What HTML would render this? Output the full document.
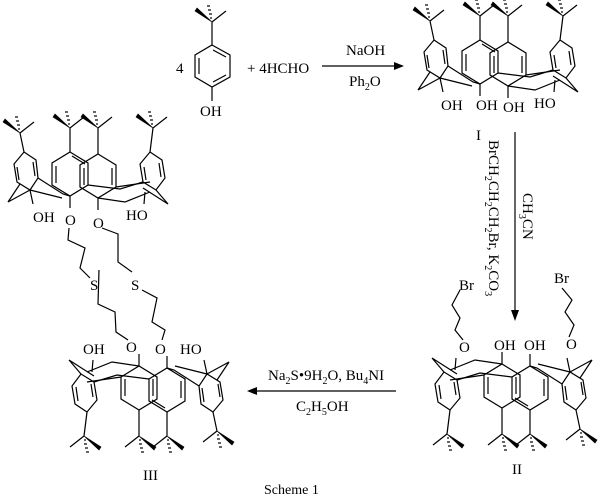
<!DOCTYPE html>
<html><head><meta charset="utf-8"><style>
html,body{margin:0;padding:0;background:#fff;}
svg{display:block;}
text{font-family:"Liberation Serif",serif;fill:#000;}
</style></head><body>
<svg width="600" height="498" viewBox="0 0 600 498" xmlns="http://www.w3.org/2000/svg">
<defs>
<g id="tbu" stroke="#000" stroke-width="1.2" fill="none">
  <line x1="0" y1="0" x2="14" y2="-11"/>
  <polygon points="0,0 -17,-11 -15,-14" fill="#000" stroke-width="0.6"/>
  <line x1="-2" y1="-4" x2="0" y2="-4"/><line x1="-3" y1="-8" x2="0" y2="-8"/><line x1="-4" y1="-12" x2="-1" y2="-12"/><line x1="-5" y1="-16" x2="-2" y2="-16"/>
</g>
<g id="calix" stroke="#000" stroke-width="1.2" fill="none">
  <use href="#tbu" x="20" y="21"/>
  <line x1="20" y1="21" x2="24" y2="40"/>
  <polygon points="24,40 36,48 38,66 30,78 17,70 14,52"/>
  <line x1="33" y1="50" x2="35" y2="64"/><line x1="17" y1="55" x2="19" y2="68"/>
  <use href="#tbu" x="70" y="16"/>
  <line x1="70" y1="16" x2="70" y2="40"/>
  <polygon points="70,40 88,51 88,73 70,84 52,73 52,51"/>
  <line x1="56" y1="54" x2="56" y2="71"/><line x1="72" y1="44" x2="85" y2="52"/>
  <use href="#tbu" x="98" y="16"/>
  <line x1="98" y1="16" x2="98" y2="42"/>
  <polygon points="98,42 116,53 116,75 98,86 80,75 80,53"/>
  <line x1="112" y1="56" x2="112" y2="73"/><line x1="84" y1="56" x2="84" y2="73"/>
  <use href="#tbu" x="153" y="16"/>
  <line x1="153" y1="16" x2="150" y2="40"/>
  <polygon points="150,40 162,48 165,66 156,78 143,70 140,52"/>
  <line x1="144" y1="55" x2="146" y2="68"/><line x1="159" y1="51" x2="161" y2="65"/>
  <polyline points="38,66 63,82 70,84"/>
  <polyline points="30,78 8,90 20,72"/>
  <polyline points="30,78 62,86"/>
  <polyline points="88,73 120,77 143,70"/>
  <polyline points="116,75 150,70"/>
  <polyline points="156,78 168,92 143,76"/>
  <polyline points="98,86 125,90 150,80"/>
  <line x1="30" y1="78" x2="33" y2="92"/>
  <line x1="70" y1="84" x2="70" y2="96"/>
  <line x1="98" y1="86" x2="98" y2="98"/>
  <line x1="145" y1="80" x2="144" y2="92"/>
</g>
</defs>

<g stroke="#000" stroke-width="1.2" fill="none">
  <use href="#tbu" x="212" y="22"/>
  <line x1="212" y1="22" x2="212" y2="45"/>
  <polygon points="212,45 230,55 230,77 212,87 195,77 195,55"/>
  <line x1="199" y1="58" x2="199" y2="74"/><line x1="213" y1="50" x2="226" y2="57"/><line x1="213" y1="82" x2="226" y2="75"/>
  <line x1="212" y1="87" x2="212" y2="101"/>
</g>
<text x="200" y="116" font-size="15">OH</text>
<text x="176" y="73" font-size="15">4</text>
<text x="247" y="73" font-size="15">+  4HCHO</text>

<line x1="322" y1="66" x2="402" y2="66" stroke="#000" stroke-width="1.2"/>
<polygon points="404,66 394,62 394,70" fill="#000"/>
<text x="346" y="55" font-size="15">NaOH</text>
<text x="349" y="86" font-size="15">Ph<tspan font-size="10" dy="4">2</tspan><tspan dy="-4">O</tspan></text>

<use href="#calix" x="410" y="0"/>
<text x="441" y="110" font-size="15">OH</text>
<text x="476" y="110" font-size="15">OH</text>
<text x="503" y="112" font-size="15">OH</text>
<text x="534" y="108" font-size="15">HO</text>
<text x="476" y="140" font-size="15">I</text>

<line x1="515" y1="132" x2="515" y2="318" stroke="#000" stroke-width="1.2"/>
<polygon points="515,321 511,310 519,310" fill="#000"/>
<text transform="translate(489,140) rotate(90)" font-size="15">BrCH<tspan font-size="10" dy="4">2</tspan><tspan dy="-4">CH</tspan><tspan font-size="10" dy="4">2</tspan><tspan dy="-4">CH</tspan><tspan font-size="10" dy="4">2</tspan><tspan dy="-4">Br, K</tspan><tspan font-size="10" dy="4">2</tspan><tspan dy="-4">CO</tspan><tspan font-size="10" dy="4">3</tspan></text>
<text transform="translate(523,193) rotate(90)" font-size="15">CH<tspan font-size="10" dy="4">3</tspan><tspan dy="-4">CN</tspan></text>

<g transform="translate(600,450) scale(-1,-1)"><use href="#calix"/></g>
<text x="459" y="352" font-size="15">O</text>
<text x="566" y="349" font-size="15">O</text>
<text x="494" y="350" font-size="15">OH</text>
<text x="524" y="350" font-size="15">OH</text>
<g stroke="#000" stroke-width="1.2" fill="none">
  <polyline points="463,340 455,330 460,318 452,305 460,290"/>
  <polyline points="569,337 574,325 565,312 572,300 562,288"/>
</g>
<text x="459" y="290" font-size="15">Br</text>
<text x="554" y="283" font-size="15">Br</text>
<text x="512" y="474" font-size="15">II</text>

<line x1="250" y1="391" x2="396" y2="391" stroke="#000" stroke-width="1.2"/>
<polygon points="247,391 257,387 257,395" fill="#000"/>
<text x="268" y="380" font-size="15">Na<tspan font-size="10" dy="4">2</tspan><tspan dy="-4">S•9H</tspan><tspan font-size="10" dy="4">2</tspan><tspan dy="-4">O, Bu</tspan><tspan font-size="10" dy="4">4</tspan><tspan dy="-4">NI</tspan></text>
<text x="296" y="411" font-size="15">C<tspan font-size="10" dy="4">2</tspan><tspan dy="-4">H</tspan><tspan font-size="10" dy="4">5</tspan><tspan dy="-4">OH</tspan></text>

<use href="#calix" x="0" y="112"/>
<text x="33" y="222" font-size="15">OH</text>
<text x="65" y="225" font-size="15">O</text>
<text x="93" y="228" font-size="15">O</text>
<text x="126" y="220" font-size="15">HO</text>
<g stroke="#000" stroke-width="1.2" fill="none">
  <polyline points="69,228 68,240 85,248 80,268 90,278"/>
  <polyline points="99,270 98,304 115,312 116,332 128,340"/>
  <polyline points="102,228 118,234 118,262 132,272"/>
  <polyline points="142,290 157,298 152,322 165,330 162,340"/>
</g>
<text x="90" y="290" font-size="15">S</text>
<text x="131" y="290" font-size="15">S</text>

<g transform="translate(237,452) scale(-1,-1)"><use href="#calix"/></g>
<text x="83" y="354" font-size="15">OH</text>
<text x="126" y="352" font-size="15">O</text>
<text x="155" y="354" font-size="15">O</text>
<text x="180" y="354" font-size="15">HO</text>
<text x="143" y="480" font-size="15">III</text>

<text x="264" y="494" font-size="14">Scheme 1</text>
</svg>
</body></html>
